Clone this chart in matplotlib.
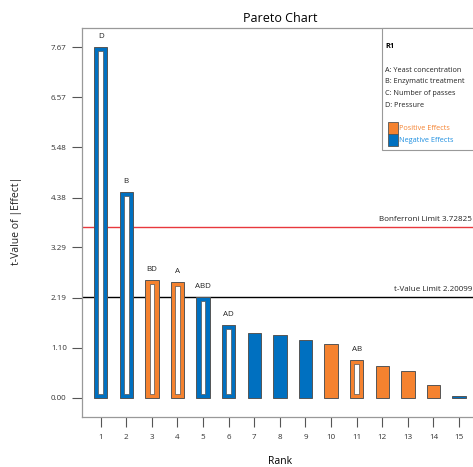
import matplotlib
matplotlib.use("Agg")
import matplotlib.pyplot as plt
from matplotlib.patches import Rectangle

plt.rcParams['font.family'] = ['Open Sans', 'DejaVu Sans']

# data
ranks = list(range(1, 16))
t_values = [7.67, 4.50, 2.58, 2.53, 2.21, 1.59, 1.42, 1.37, 1.26, 1.17, 0.82, 0.69, 0.58, 0.27, 0.03]
signs = ['neg', 'neg', 'pos', 'pos', 'neg', 'neg', 'neg', 'neg', 'neg', 'pos', 'pos', 'pos', 'pos', 'pos', 'neg']
terms = ['D', 'B', 'BD', 'A', 'ABD', 'AD', '', '', '', '', 'AB', '', '', '', '']
in_model = [True, True, True, True, True, True, False, False, False, False, True, False, False, False, False]
y_ticks = [0.00, 1.10, 2.19, 3.29, 4.38, 5.48, 6.57, 7.67]
bonferroni = 3.72825
t_limit = 2.20099
factors = ['A: Yeast concentration', 'B: Enzymatic treatment', 'C: Number of passes', 'D: Pressure']

ORANGE = '#F5822F'
BLUE = '#0070C0'
EDGE = '#555555'
W, H = 473, 467


def fx(px):
    return px / W


def fy(py):
    return 1 - py / H


fig = plt.figure(figsize=(4.73, 4.67), dpi=100)
ax = fig.add_axes([fx(82), fy(417), fx(478) - fx(82), fy(28) - fy(417)])

bar_w = 0.52
for r, v, s, m in zip(ranks, t_values, signs, in_model):
    col = ORANGE if s == 'pos' else BLUE
    ax.bar(r, v, width=bar_w, color=col, edgecolor=EDGE, linewidth=0.7, zorder=3)
    if m:
        # terms in the model are drawn hollow
        ax.bar(r, v - 0.18, bottom=0.09, width=0.18, color='white',
               edgecolor=EDGE, linewidth=0.5, zorder=4)

for r, v, t in zip(ranks, t_values, terms):
    if t:
        ax.annotate(t, (r, v), xytext=(0, 6.5), textcoords='offset points',
                    ha='center', va='baseline', fontsize=5.8, color='#222222')

ax.axhline(bonferroni, color='#E8383D', lw=1.0, zorder=2)
ax.axhline(t_limit, color='black', lw=1.0, zorder=2)
ax.annotate(f'Bonferroni Limit {bonferroni:.5f}', (fx(472), bonferroni),
            xycoords=('figure fraction', 'data'), xytext=(0, 3), textcoords='offset points',
            ha='right', va='bottom', fontsize=5.8, color='#222222')
ax.annotate(f't-Value Limit {t_limit:.5f}', (fx(472), t_limit),
            xycoords=('figure fraction', 'data'), xytext=(0, 3), textcoords='offset points',
            ha='right', va='bottom', fontsize=5.8, color='#222222')

ax.set_xlim(0.27, 15.74)
ax.set_ylim(-0.42, 8.09)
ax.set_xticks(ranks)
ax.set_yticks(y_ticks)
ax.set_yticklabels([f'{t:.2f}' for t in y_ticks])
ax.tick_params(axis='both', direction='out', length=7, width=0.8, color='#555555',
               labelsize=5.8, labelcolor='#333333')
ax.tick_params(axis='x', pad=5)
ax.tick_params(axis='y', pad=4)
for sp in ax.spines.values():
    sp.set_color('#999999')
    sp.set_linewidth(0.9)

ax.set_title('Pareto Chart', fontsize=9, pad=4)
ax.set_xlabel('Rank', fontsize=7.5, labelpad=11)
fig.text(fx(16), fy(221), 't-Value of |Effect|', rotation=90, ha='center', va='center',
         fontsize=7.5, color='#222222')

# legend box at top right
fig.add_artist(Rectangle((fx(382), fy(150)), fx(120), fy(28) - fy(150),
                         transform=fig.transFigure, facecolor='white',
                         edgecolor='#999999', lw=0.8, zorder=5))
fig.text(fx(385), fy(46), 'R1', fontsize=5.3, fontweight='bold', va='center', zorder=6)
for i, f in enumerate(factors):
    fig.text(fx(385), fy(70 + i * 11.7), f, fontsize=5.2, va='center', color='#222222', zorder=6)
fig.add_artist(Rectangle((fx(388), fy(134)), fx(10), fy(122) - fy(134),
                         transform=fig.transFigure, facecolor=ORANGE, edgecolor=EDGE, lw=0.6, zorder=6))
fig.add_artist(Rectangle((fx(388), fy(146)), fx(10), fy(134) - fy(146),
                         transform=fig.transFigure, facecolor=BLUE, edgecolor=EDGE, lw=0.6, zorder=6))
fig.text(fx(399), fy(128), 'Positive Effects', fontsize=5.2, va='center', color=ORANGE, zorder=6)
fig.text(fx(399), fy(140), 'Negative Effects', fontsize=5.2, va='center', color='#1E8FE0', zorder=6)

fig.savefig('out.png', dpi=100)
